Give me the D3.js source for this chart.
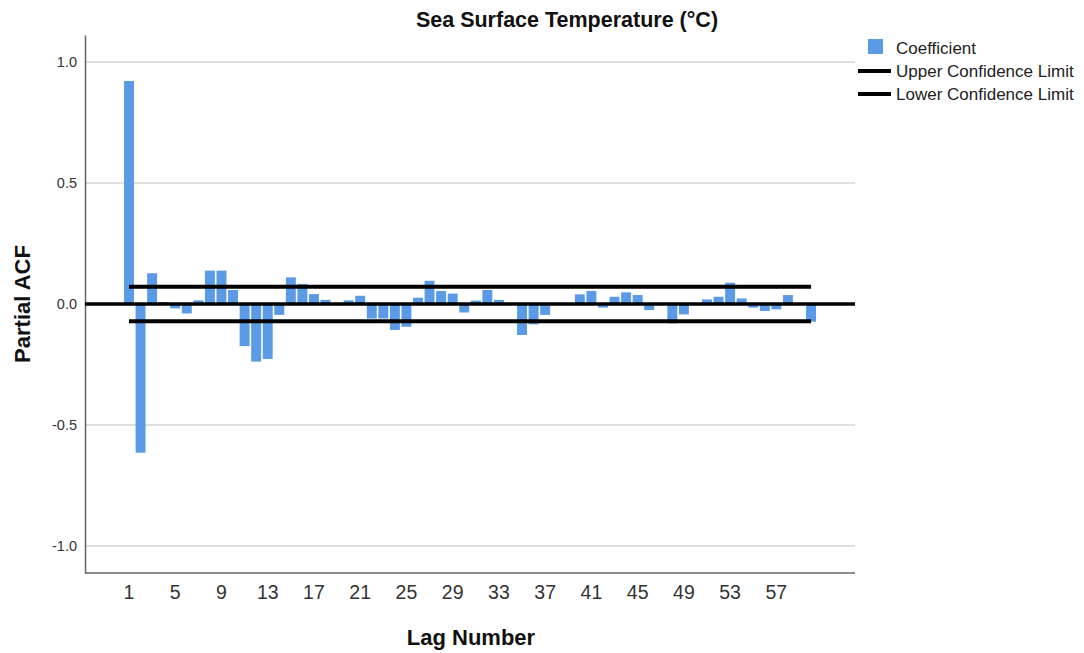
<!DOCTYPE html>
<html><head><meta charset="utf-8">
<script src="https://cdn.jsdelivr.net/npm/d3@7/dist/d3.min.js"></script>
<style>body{margin:0;background:#fff;font-family:"Liberation Sans",Arial,sans-serif;}</style>
</head><body><svg id="c" width="1084" height="653"></svg>
<script>
const lags = d3.range(1, 61);
const coefficients = [0.921,-0.614,0.127,0.008,-0.018,-0.039,0.015,0.138,0.138,0.058,
 -0.174,-0.238,-0.227,-0.045,0.110,0.083,0.041,0.017,-0.005,0.015,
 0.034,-0.060,-0.060,-0.107,-0.094,0.026,0.096,0.054,0.043,-0.035,
 0.014,0.058,0.017,-0.003,-0.128,-0.084,-0.045,0.002,0.002,0.040,
 0.054,-0.015,0.030,0.048,0.037,-0.025,-0.003,-0.080,-0.043,0.002,
 0.019,0.030,0.088,0.023,-0.015,-0.029,-0.022,0.037,0.002,-0.073];
const upperLimit = 0.071;
const lowerLimit = -0.071;
const xTicks = [1,5,9,13,17,21,25,29,33,37,41,45,49,53,57];
const yTicks = [-1.0,-0.5,0.0,0.5,1.0];
const yTickLabels = ["-1.0","-0.5","0.0","0.5","1.0"];
const title = "Sea Surface Temperature (°C)";

const svg = d3.select("#c");
const FONT = "Liberation Sans, Arial, sans-serif";
const L = 85, R = 855, T = 35, B = 573;
const y = d3.scaleLinear().domain([-1.111, 1.111]).range([B, T]);
const step = 11.56;
const x = d3.scaleBand().domain(lags).range([129 - step/2, 129 - step/2 + step*60]).paddingInner(0.14).paddingOuter(0.07);

// gridlines
svg.append("g").selectAll("line").data(yTicks.filter(d=>d!==0)).join("line")
  .attr("x1", L).attr("x2", R).attr("y1", d=>y(d)).attr("y2", d=>y(d))
  .attr("stroke", "#d4d4d4").attr("stroke-width", 1.5);

// axes
const yAxis = d3.axisLeft(y).tickValues(yTicks).tickFormat((d,i)=>yTickLabels[i]).tickSize(0).tickPadding(8);
const gy = svg.append("g").attr("transform", `translate(${L},0)`).call(yAxis);
gy.select(".domain").attr("stroke", "#666").attr("stroke-width", 1.5);
gy.selectAll("text").attr("font-size", 14.5).attr("fill", "#333").attr("font-family", FONT);

const xAxis = d3.axisBottom(x).tickValues(xTicks).tickSize(0).tickPadding(12);
const gx = svg.append("g").attr("transform", `translate(0,${B})`).call(xAxis);
gx.select(".domain").attr("d", `M${L},0H${R}`).attr("stroke", "#666").attr("stroke-width", 1.5);
gx.selectAll("text").attr("font-size", 19.5).attr("fill", "#333").attr("font-family", FONT);

// bars
svg.append("g").selectAll("rect").data(lags).join("rect")
  .attr("x", d=>x(d)).attr("width", x.bandwidth())
  .attr("y", (d,i)=>y(Math.max(0, coefficients[i])))
  .attr("height", (d,i)=>Math.abs(y(coefficients[i]) - y(0)))
  .attr("fill", "#5b9ae6");

// confidence limits
const cx0 = x(1) + x.bandwidth()/2, cx1 = x(60) + x.bandwidth()/2;
[upperLimit, lowerLimit].forEach(v=>{
  svg.append("line").attr("x1", cx0).attr("x2", cx1).attr("y1", y(v)).attr("y2", y(v))
    .attr("stroke", "#000").attr("stroke-width", 4);
});
// zero line
svg.append("line").attr("x1", L).attr("x2", R).attr("y1", y(0)).attr("y2", y(0))
  .attr("stroke", "#000").attr("stroke-width", 3.5);

// title and labels
svg.append("text").attr("x", 567).attr("y", 27).attr("text-anchor", "middle").attr("font-family", FONT)
  .attr("font-size", 21.5).attr("font-weight", "bold").attr("fill", "#111").text(title);
svg.append("text").attr("transform", `translate(30,${y(0)}) rotate(-90)`).attr("text-anchor", "middle").attr("font-family", FONT)
  .attr("font-size", 22).attr("font-weight", "bold").attr("fill", "#111").text("Partial ACF");
svg.append("text").attr("x", 471).attr("y", 645).attr("text-anchor", "middle").attr("font-family", FONT)
  .attr("font-size", 22).attr("font-weight", "bold").attr("fill", "#111").text("Lag Number");

// legend
const lg = svg.append("g").attr("font-family", FONT);
lg.append("rect").attr("x", 868).attr("y", 39).attr("width", 15).attr("height", 15).attr("fill", "#5b9ae6");
lg.append("text").attr("x", 896).attr("y", 54).attr("font-size", 17).attr("fill", "#222").text("Coefficient");
[["Upper Confidence Limit", 71], ["Lower Confidence Limit", 94]].forEach(([t, yy])=>{
  lg.append("line").attr("x1", 858).attr("x2", 891).attr("y1", yy).attr("y2", yy).attr("stroke", "#000").attr("stroke-width", 4);
  lg.append("text").attr("x", 896).attr("y", yy + 6).attr("font-size", 17).attr("fill", "#222").text(t);
});
</script></body></html>
